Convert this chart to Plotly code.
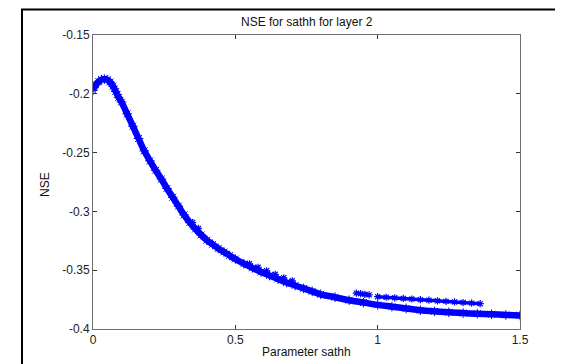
import plotly.graph_objects as go

# Main band (Parameter sathh vs NSE)
main_x = [0.00, 0.01, 0.02, 0.03, 0.04, 0.05, 0.06, 0.07, 0.08, 0.09,
          0.10, 0.12, 0.14, 0.16, 0.18, 0.20, 0.22, 0.24, 0.26, 0.28,
          0.30, 0.32, 0.34, 0.36, 0.38, 0.40, 0.42, 0.44, 0.46, 0.48,
          0.50, 0.53, 0.56, 0.59, 0.62, 0.65, 0.68, 0.71, 0.74, 0.77,
          0.80, 0.85, 0.90, 0.95, 1.00, 1.05, 1.10, 1.15, 1.20, 1.25,
          1.30, 1.35, 1.40, 1.45, 1.50]
main_y = [-0.197, -0.1925, -0.1895, -0.188, -0.1875, -0.188, -0.190, -0.1935, -0.198, -0.203,
          -0.207, -0.217, -0.2275, -0.238, -0.2485, -0.257, -0.265, -0.2725, -0.2805, -0.288,
          -0.2955, -0.303, -0.3095, -0.315, -0.320, -0.3245, -0.328, -0.3315, -0.3345, -0.3375,
          -0.3405, -0.3445, -0.348, -0.3515, -0.3545, -0.3575, -0.3605, -0.363, -0.3655, -0.368,
          -0.3705, -0.373, -0.3755, -0.3775, -0.3795, -0.381, -0.3825, -0.384, -0.385, -0.3858,
          -0.3865, -0.387, -0.3875, -0.388, -0.3885]

# Scattered runs slightly above the main band
bump_x = [0.35, 0.37, 0.55, 0.58, 0.61, 0.64, 0.67, 0.70]
bump_y = [-0.3095, -0.3145, -0.3445, -0.3475, -0.3505, -0.3535, -0.3565, -0.359]

# Upper secondary band at large sathh
upper_x = [0.925, 0.94, 0.955, 0.97, 1.00, 1.03, 1.06, 1.09, 1.12, 1.15,
           1.18, 1.21, 1.24, 1.27, 1.30, 1.33, 1.36]
upper_y = [-0.3695, -0.370, -0.3705, -0.371, -0.3725, -0.373, -0.3735, -0.374, -0.3745, -0.375,
           -0.3755, -0.376, -0.3765, -0.377, -0.3775, -0.378, -0.3785]

x_ticks = [0, 0.5, 1, 1.5]
x_labels = ["0", "0.5", "1", "1.5"]
y_ticks = [-0.4, -0.35, -0.3, -0.25, -0.2, -0.15]
y_labels = ["-0.4", "-0.35", "-0.3", "-0.25", "-0.2", "-0.15"]

BLUE = "#0000FF"
FONT = "Liberation Sans, Arial, sans-serif"

# page offset (body margin) and target plot box in window pixels
OFF = 8
PL, PT, PR, PB = 93, 35, 520, 329
W, H = 563, 364
pw, ph = PR - PL, PB - PT


def px(xw):
    return (xw - PL) / pw


def py(yw):
    return (PB - yw) / ph


def star(size, width):
    return dict(symbol="asterisk-open", size=size, color=BLUE,
                line=dict(color=BLUE, width=width))


fig = go.Figure()
fig.add_trace(go.Scatter(x=main_x, y=main_y, mode="lines+markers",
                         line=dict(color=BLUE, width=6.5, shape="spline"),
                         marker=star(8, 1), showlegend=False))
fig.add_trace(go.Scatter(x=bump_x, y=bump_y, mode="markers",
                         marker=star(6, 1.2), showlegend=False))
fig.add_trace(go.Scatter(x=upper_x[:4], y=upper_y[:4], mode="lines+markers",
                         line=dict(color=BLUE, width=4),
                         marker=star(6, 1.2), showlegend=False))
fig.add_trace(go.Scatter(x=upper_x[4:], y=upper_y[4:], mode="lines+markers",
                         line=dict(color=BLUE, width=3.5),
                         marker=star(6, 1.2), showlegend=False))

axis_common = dict(showgrid=False, zeroline=False, showline=True, mirror="ticks",
                   linecolor="#6e6e6e", linewidth=1, ticks="inside", ticklen=4,
                   tickcolor="#333333", tickfont=dict(family=FONT, size=12, color="#222222"))

fig.update_layout(
    width=W, height=H,
    margin=dict(l=PL - OFF, r=W - (PR - OFF), t=PT - OFF, b=H - (PB - OFF)),
    paper_bgcolor="white", plot_bgcolor="white",
    xaxis=dict(range=[0, 1.5], tickvals=x_ticks, ticktext=x_labels, **axis_common),
    yaxis=dict(range=[-0.4, -0.15], tickvals=y_ticks, ticktext=y_labels, **axis_common),
    annotations=[
        dict(text="NSE for sathh for layer 2", x=0.5, y=py(22), xref="paper", yref="paper",
             showarrow=False, font=dict(family=FONT, size=12, color="#111111"),
             yanchor="middle"),
        dict(text="Parameter sathh", x=0.5, y=py(352), xref="paper", yref="paper",
             showarrow=False, font=dict(family=FONT, size=12, color="#111111"),
             yanchor="middle"),
        dict(text="NSE", x=px(45), y=py(185), xref="paper", yref="paper", textangle=-90,
             showarrow=False, font=dict(family=FONT, size=12, color="#111111"),
             xanchor="center", yanchor="middle"),
    ],
    shapes=[dict(type="rect", xref="paper", yref="paper",
                 x0=px(22), x1=1.3, y0=-0.3, y1=py(OFF + 1.5),
                 line=dict(color="black", width=2), fillcolor="rgba(0,0,0,0)", layer="below")],
)

fig.write_html("out.html")
